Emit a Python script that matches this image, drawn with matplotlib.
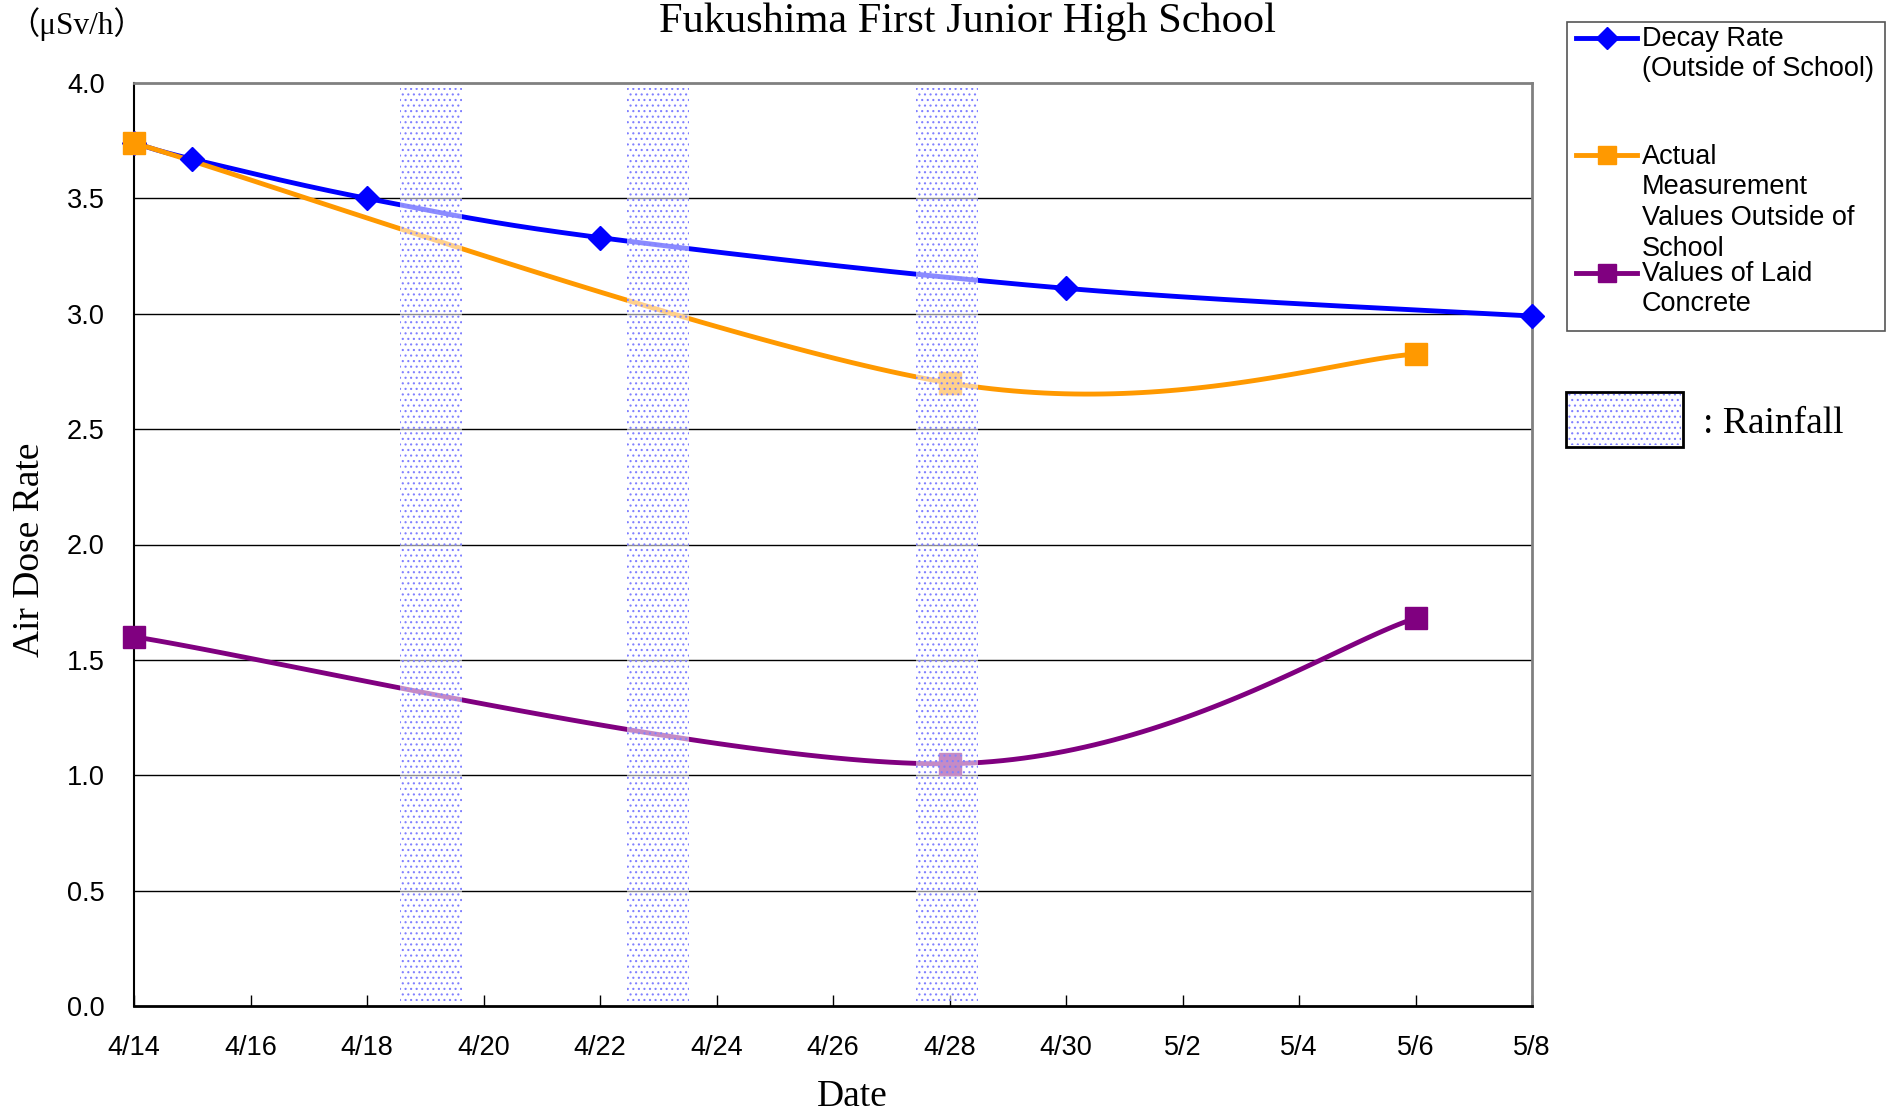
import numpy as np
import pandas as pd
import matplotlib
matplotlib.use("Agg")
import matplotlib.pyplot as plt
import matplotlib.dates as mdates
from matplotlib.lines import Line2D
from matplotlib.patches import Rectangle

# data
decay_dates = ["2011-04-14", "2011-04-15", "2011-04-18", "2011-04-22", "2011-04-30", "2011-05-08"]
decay_vals = [3.74, 3.67, 3.50, 3.33, 3.11, 2.99]

meas_dates = ["2011-04-14", "2011-04-28", "2011-05-06"]
outside_vals = [3.74, 2.70, 2.825]
concrete_vals = [1.60, 1.05, 1.68]

# centres of the rainfall bands
rain_days = ["2011-04-19 02:30", "2011-04-23 00:00", "2011-04-27 23:00"]

tick_dates = pd.date_range("2011-04-14", "2011-05-08", freq="2D")
y_ticks = [0.0, 0.5, 1.0, 1.5, 2.0, 2.5, 3.0, 3.5, 4.0]

W, H = 1890, 1117
SERIF = ["Liberation Serif", "Noto Sans CJK JP"]
SANS = ["Liberation Sans", "DejaVu Sans"]
RAIN_DOT = "#8080ff"


def excel_smooth(x, y, n=60):
    """Bezier smoothing like Excel's 'smoothed line'."""
    x = np.asarray(x, float)
    y = np.asarray(y, float)
    pts = np.column_stack([x, y])
    out = [pts[:1]]
    for i in range(len(pts) - 1):
        p0 = pts[i - 1] if i > 0 else pts[i]
        p1, p2 = pts[i], pts[i + 1]
        p3 = pts[i + 2] if i + 2 < len(pts) else pts[i + 1]
        c1 = p1 + (p2 - p0) / 6
        c2 = p2 - (p3 - p1) / 6
        t = np.linspace(0, 1, n)[1:, None]
        seg = ((1 - t) ** 3) * p1 + 3 * ((1 - t) ** 2) * t * c1 + 3 * (1 - t) * t ** 2 * c2 + t ** 3 * p2
        out.append(seg)
    out = np.vstack(out)
    return out[:, 0], out[:, 1]


def px(x, y):
    return x / W, 1 - y / H


plt.rcParams["hatch.linewidth"] = 0.8

fig = plt.figure(figsize=(18.9, 11.17), dpi=100)
ax = fig.add_axes([134 / W, 1 - 1006 / H, (1532 - 134) / W, (1006 - 83) / H])

xd = mdates.date2num(pd.to_datetime(decay_dates))
xm = mdates.date2num(pd.to_datetime(meas_dates))

series = [
    (xd, decay_vals, "#0000ff", "D", 12),
    (xm, outside_vals, "#ff9900", "s", 16),
    (xm, concrete_vals, "#800080", "s", 16),
]
for x, y, c, m, ms in series:
    sx, sy = excel_smooth(x, y)
    ax.plot(sx, sy, color=c, lw=3.5, zorder=3, solid_capstyle="butt")
    ax.plot(x, y, ls="none", marker=m, ms=ms, color=c, zorder=4, clip_on=False)

# rainfall bands
for d in mdates.date2num(pd.to_datetime(rain_days)):
    ax.axvspan(d - 0.53, d + 0.53, ymin=0.005, ymax=0.995,
               facecolor=(1, 1, 1, 0.55), edgecolor=RAIN_DOT, hatch="...",
               lw=0, zorder=5)

ax.set_xlim(mdates.date2num(tick_dates[0]), mdates.date2num(tick_dates[-1]))
ax.set_ylim(0, 4.0)
ax.set_xticks(mdates.date2num(tick_dates))
ax.set_xticklabels([f"{d.month}/{d.day}" for d in tick_dates])
ax.set_yticks(y_ticks)
ax.set_yticklabels([f"{v:.1f}" for v in y_ticks])
for v in y_ticks[1:-1]:
    ax.axhline(v, color="black", lw=1, zorder=1)

ax.tick_params(axis="x", direction="in", length=8, width=1, pad=21, labelsize=19.5)
ax.tick_params(axis="y", direction="out", length=0, pad=21, labelsize=19.5)
for lab in ax.get_xticklabels() + ax.get_yticklabels():
    lab.set_family(SANS)

ax.spines["left"].set_color("black")
ax.spines["left"].set_linewidth(1.5)
ax.spines["bottom"].set_color("black")
ax.spines["bottom"].set_linewidth(2)
ax.spines["top"].set_color("#808080")
ax.spines["top"].set_linewidth(2)
ax.spines["right"].set_color("#808080")
ax.spines["right"].set_linewidth(2)

# titles and axis labels
fig.text(*px(968, 32), "Fukushima First Junior High School", family=SERIF,
         fontsize=30.5, ha="center", va="baseline")
fig.text(*px(77, 24), "（μSv/h）", family=SERIF, fontsize=22.5, ha="center", va="center")
fig.text(*px(30, 550), "Air Dose Rate", family=SERIF, fontsize=27, rotation=90,
         ha="center", va="center")
fig.text(*px(852, 1097), "Date", family=SERIF, fontsize=27, ha="center", va="center")

# legend box
fig.add_artist(Rectangle(px(1567, 331), (1885 - 1567) / W, (331 - 22) / H,
                         transform=fig.transFigure, fill=False, ec="#555555", lw=1.2))
legend_rows = [
    ("#0000ff", "D", 11, 38, ["Decay Rate", "(Outside of School)"], 39),
    ("#ff9900", "s", 13, 155, ["Actual", "Measurement", "Values Outside of", "School"], 157),
    ("#800080", "s", 13, 273, ["Values of Laid", "Concrete"], 274),
]
for c, m, ms, hy, lines, ty in legend_rows:
    fig.add_artist(Line2D([1576 / W, 1637 / W], [1 - hy / H] * 2, color=c, lw=3.5,
                          transform=fig.transFigure))
    fig.add_artist(Line2D([1607 / W], [1 - hy / H], color=c, marker=m, ms=ms,
                          transform=fig.transFigure))
    for k, t in enumerate(lines):
        fig.text(*px(1642, ty + 30.5 * k), t, family=SANS, fontsize=19.5,
                 ha="left", va="center")

# rainfall key
fig.add_artist(Rectangle(px(1566, 447), (1683 - 1566) / W, (447 - 392) / H,
                         transform=fig.transFigure, facecolor="white",
                         edgecolor="black", lw=2))
fig.add_artist(Rectangle(px(1568, 445), (1681 - 1568) / W, (445 - 394) / H,
                         transform=fig.transFigure, facecolor=(1, 1, 1, 0),
                         edgecolor=RAIN_DOT, hatch="...", lw=0))
fig.text(*px(1703, 424), ": Rainfall", family=SERIF, fontsize=27, ha="left", va="center")

fig.savefig("out.png", dpi=100)
